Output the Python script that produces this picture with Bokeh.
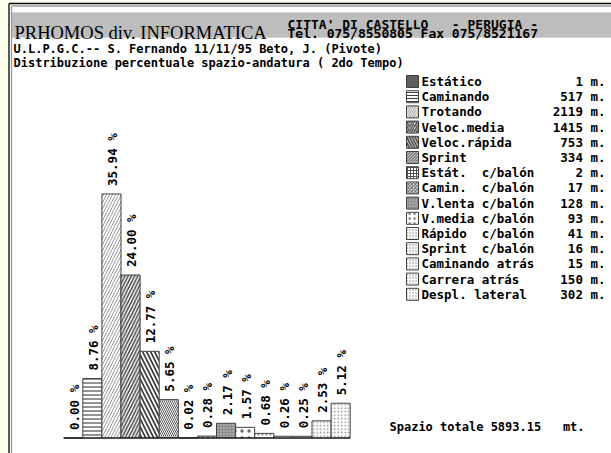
import math
from bokeh.plotting import figure
from bokeh.models import Range1d, ColumnDataSource
from bokeh.core.properties import value
from bokeh.embed import file_html
from bokeh.resources import INLINE

# ---------------- data ----------------
categories = ["Estático", "Caminando", "Trotando", "Veloc.media", "Veloc.rápida",
              "Sprint", "Estát.  c/balón", "Camin.  c/balón", "V.lenta c/balón",
              "V.media c/balón", "Rápido  c/balón", "Sprint  c/balón",
              "Caminando atrás", "Carrera atrás", "Despl. lateral"]
percentages = [0.00, 8.76, 35.94, 24.00, 12.77, 5.65, 0.02, 0.28, 2.17, 1.57,
               0.68, 0.26, 0.25, 2.53, 5.12]
meters = [1, 517, 2119, 1415, 753, 334, 2, 17, 128, 93, 41, 16, 15, 150, 302]
total_space = 5893.15

title_main = "PRHOMOS div. INFORMATICA"
title_addr1 = "CITTA' DI CASTELLO   - PERUGIA -"
title_addr2 = "Tel. 075/8550805 Fax 075/8521167"
subtitle1 = "U.L.P.G.C.-- S. Fernando 11/11/95 Beto, J. (Pivote)"
subtitle2 = "Distribuzione percentuale spazio-andatura ( 2do Tempo)"


def keep_spaces(s):
    # SVG collapses runs of spaces; keep them visible with no-break spaces
    return s.replace("  ", " \u00a0")


# ---------------- styles ----------------
fills = ["#5e5e5e", "white", "white", "white", "white", "white", "white", "white",
         "#8c8c8c", "white", "white", "white", "white", "white", "white"]
hatches = [" ", "-", "/", "/", "\\", "\\", "+", "x", ".", ".", ".", ".", ".", ".", "."]
hatch_colors = ["#5e5e5e", "#3c3c3c", "#9a9a9a", "#3c3c3c", "#3c3c3c", "#5a5a5a",
                "#505050", "#505050", "#cfcfcf", "#6a6a6a", "#7a7a7a", "#7a7a7a",
                "#7a7a7a", "#8a8a8a", "#8a8a8a"]
hatch_scales = [6, 4, 6, 6.5, 8, 4, 4, 5, 3, 7, 4, 4, 4, 3.5, 3.5]
hatch_weights = [1, 1.1, 1, 1.4, 1.7, 1, 1, 1, 0.8, 1.2, 1, 1, 1, 1, 1]

W, H = 611, 453
PX_X = 19.1          # px per bar
PX_Y = 6.79          # px per percent
bar0_center = 72.75  # px from left edge
base_from_bottom = 15.5

x0 = -bar0_center / PX_X
y0 = -base_from_bottom / PX_Y

p = figure(width=W, height=H, output_backend="svg", toolbar_location=None,
           x_range=Range1d(x0, x0 + W / PX_X), y_range=Range1d(y0, y0 + H / PX_Y),
           min_border=0, x_axis_location=None, y_axis_location=None,
           background_fill_color="white", border_fill_color="white")
p.outline_line_color = None
p.grid.visible = False
p.extra_x_ranges = {"px": Range1d(0, W)}
p.extra_y_ranges = {"px": Range1d(H, 0)}

PX = dict(x_range_name="px", y_range_name="px")
MONO = value("DejaVu Sans Mono")

# page frame: cream margin and grey header band, built from thin strokes
band_rows = [12.5 + k for k in range(25)]
cream_cols = [0.5 + k for k in range(8)]
p.segment(x0=[11] * len(band_rows), y0=band_rows, x1=[W] * len(band_rows), y1=band_rows,
          line_color="#a8a8a8", line_width=1.2, **PX)
p.segment(x0=cream_cols, y0=[0] * len(cream_cols), x1=cream_cols, y1=[H] * len(cream_cols),
          line_color="#fffde2", line_width=1.2, **PX)
p.segment(x0=[0, 0], y0=[0.5, 1.5], x1=[W, W], y1=[0.5, 1.5],
          line_color="#fffde2", line_width=1.2, **PX)
p.segment(x0=[8.5, 8.5, 11, 11], y0=[3, 3, 5.5, 5.5], x1=[8.5, W, 11, W],
          y1=[H, 3, H, 5.5], line_color=["black", "black", "#9a9a9a", "#9a9a9a"],
          line_width=1.3, **PX)

p.text(x=[14], y=[32], text=[title_main], text_font=value("Liberation Serif"),
       text_font_size="18.5px", text_color="black", text_baseline="alphabetic", **PX)
p.text(x=[287, 287], y=[24, 32.5], text=[keep_spaces(title_addr1), keep_spaces(title_addr2)],
       text_font=MONO, text_font_style="bold", text_font_size="13px", text_color="black",
       text_baseline="alphabetic", **PX)
p.text(x=[13, 13], y=[48, 62.5], text=[subtitle1, subtitle2], text_font=MONO,
       text_font_style="bold", text_font_size="12px", text_color="black",
       text_baseline="alphabetic", **PX)

# bars
n = len(categories)
idx = list(range(n))
src = ColumnDataSource(dict(x=idx, top=percentages, fill=fills, hp=hatches,
                            hc=hatch_colors, hs=hatch_scales, hw=hatch_weights))
p.vbar(x="x", top="top", bottom=0, width=1, source=src, fill_color="fill",
       line_color="#404040", line_width=1, hatch_pattern="hp", hatch_color="hc",
       hatch_scale="hs", hatch_weight="hw")
p.segment(x0=[-0.5], y0=[0], x1=[n - 0.5], y1=[0], line_color="black", line_width=1.2)

labels = [f"{v:.2f} %" for v in percentages]
gap = 8 / PX_Y
p.text(x=idx, y=[v + gap for v in percentages], text=labels, angle=math.pi / 2,
       text_align="left", text_baseline="middle", x_offset=1, text_font=MONO,
       text_font_style="bold", text_font_size="12.5px", text_color="black")

# legend
row_y = [81 + 15.2 * i for i in range(n)]
p.quad(left=[406] * n, right=[418] * n, top=[y - 6 for y in row_y],
       bottom=[y + 6 for y in row_y], fill_color=fills, line_color="#404040",
       line_width=1, hatch_pattern=hatches, hatch_color=hatch_colors,
       hatch_scale=[max(3, s * 0.7) for s in hatch_scales], hatch_weight=hatch_weights, **PX)
p.text(x=[421] * n, y=row_y, text=[keep_spaces(c) for c in categories], text_font=MONO,
       text_font_style="bold", text_font_size="12.5px", text_color="black",
       text_baseline="middle", **PX)
p.text(x=[605] * n, y=row_y, text=[f"{m} m." for m in meters], text_font=MONO,
       text_font_style="bold", text_font_size="12.5px", text_color="black",
       text_baseline="middle", text_align="right", **PX)

p.text(x=[389], y=[426.5], text=[keep_spaces(f"Spazio totale {total_space:.2f}   mt.")],
       text_font=MONO, text_font_style="bold", text_font_size="12px", text_color="black",
       text_baseline="alphabetic", **PX)

open("out.html", "w").write(file_html(p, INLINE))
